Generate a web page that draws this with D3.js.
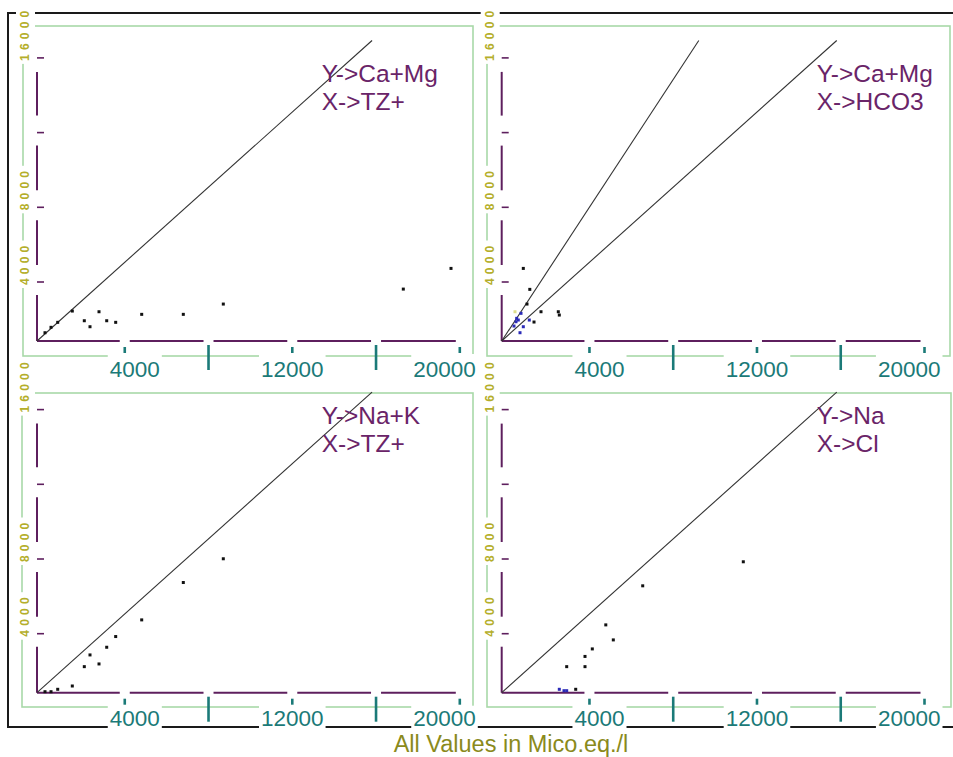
<!DOCTYPE html>
<html><head><meta charset="utf-8">
<script src="https://cdn.jsdelivr.net/npm/d3@7"></script>
<style>body{margin:0;background:#fff} svg{display:block}</style>
</head><body><svg id="c" width="953" height="757"></svg>
<script>
// ---------- DATA (micro-equivalents per litre) ----------
// samples shown in the Ca+Mg vs TZ+ panel and Na+K vs TZ+ panel
const tzPlus = [382, 669, 989, 1686, 2259, 2531, 2961, 3329, 3758, 5000, 6987, 8897, 17493, 19771];
const caMg   = [441, 728, 994, 1595, 1079, 760, 1558, 1079, 994, 1419, 1419, 1967, 2764, 3865];
const naK    = [53, 53, 181, 357, 1387, 2011, 1531, 2420, 2990, 3877, 5867, 7131, null, null];
// Ca+Mg vs HCO3 panel
const hco3      = [1032, 1342, 1208, 1877, 1543, 2703, 2751, 922, 793, 683, 587, 1032, 1318, 874, 716, 635];
const caMgHco3  = [3865, 2749, 1967, 1558, 1010, 1558, 1382, 1473, 1116, 1026, 797, 760, 1116, 441, 1207, 1558];
const hco3Group = ["k","k","k","k","k","k","k","b","b","b","b","b","b","b","b","y"];
// Na vs Cl panel
const cl      = [11538, 6734, 4971, 5330, 4327, 3978, 3978, 3104, 2751, 2975, 3104, 3534];
const na      = [6971, 5691, 3611, 2811, 2331, 1931, 1387, 1387, 181, 107, 107, 181];
const clGroup = ["k","k","k","k","k","k","k","k","b","b","b","k"];
// reference line slopes (y = r * x)
const linesCaMgTZ = [1];
const linesCaMgHCO3 = [1.7, 1];
const linesNaKTZ = [1];
const linesNaCl = [1];
// axes
const xTicks = [4000, 8000, 12000, 16000, 20000];
const xTickLabels = ["4000", "", "12000", "", "20000"];
const yTicks = [4000, 8000, 12000, 16000];
const yTickLabels = ["4000", "8000", "", "16000"];
const panelTitles = [["Y->Ca+Mg","X->TZ+"],["Y->Ca+Mg","X->HCO3"],["Y->Na+K","X->TZ+"],["Y->Na","X->Cl"]];
const footer = "All Values in Mico.eq./l";

// ---------- STYLE / LAYOUT ----------
const FONT = '"Liberation Sans", Arial, sans-serif';
const COL = {purple:'#5e1f5e', teal:'#1b7a78', green:'#a8d9a8', ylab:'#b4ae2a',
             text:'#6a2468', foot:'#8a8a1c', line:'#333333', frame:'#1a1a1a'};
const groupColor = {k:'#111111', b:'#2b2bb8', y:'#dede8a'};
const xLabelAnchor = ['start','middle','middle','middle','end'];
const xLabelShift = [-15, 0, 0, 0, 16];

const panels = [
  {ox:37,    oy:341,   frame:[23,26,473,356],   xs:tzPlus, ys:caMg,     grp:null,      lines:linesCaMgTZ,   tx:321.7, ty:81.7, ldy:36},
  {ox:501.7, oy:341,   frame:[487,26,950,356],  xs:hco3,   ys:caMgHco3, grp:hco3Group, lines:linesCaMgHCO3, tx:816.7, ty:81.7, ldy:36},
  {ox:37,    oy:692.7, frame:[22,393,473,707],  xs:tzPlus, ys:naK,      grp:null,      lines:linesNaKTZ,    tx:321.7, ty:424,  ldy:33},
  {ox:501.7, oy:692.7, frame:[487,393,951,707], xs:cl,     ys:na,       grp:clGroup,   lines:linesNaCl,     tx:816.7, ty:424,  ldy:33}
];

const svg = d3.select('#c');
svg.append('rect').attr('width',953).attr('height',757).attr('fill','#fff');
svg.append('defs').append('clipPath').attr('id','clipTop')
   .append('rect').attr('x',0).attr('y',11).attr('width',953).attr('height',746);

// outer black frame
svg.append('path').attr('d','M953,13 H8 V727 H953').attr('fill','none')
   .attr('stroke',COL.frame).attr('stroke-width',2);

panels.forEach((p, pi) => {
  const g = svg.append('g');
  const x  = d3.scaleLinear().domain([0,20000]).range([p.ox, p.ox + 418.8]);
  const y  = d3.scaleLinear().domain([0,16000]).range([p.oy, p.oy - 300.5]);
  const xt = d3.scaleLinear().domain([0,20000]).range([p.ox + 4, p.ox + 4 + 418.8]);
  const yt = d3.scaleLinear().domain([0,16000]).range([p.oy + 15.7, p.oy + 15.7 - 298.8]);
  const f = p.frame;

  // green frame
  g.append('rect').attr('x',f[0]).attr('y',f[1]).attr('width',f[2]-f[0]).attr('height',f[3]-f[1])
   .attr('fill','none').attr('stroke',COL.green).attr('stroke-width',1.6);

  // y tick labels (rotated, with white boxes)
  const yl = g.append('g').attr('clip-path','url(#clipTop)');
  yTicks.forEach((t,i) => {
    if (!yTickLabels[i]) return;
    const lg = yl.append('g');
    const box = lg.append('rect').attr('fill','#fff');
    const tx = lg.append('text').text(yTickLabels[i])
      .attr('transform',`translate(${p.ox-12},${yt(t)+3}) rotate(-90)`)
      .attr('dy','0.36em').attr('font-family',FONT).attr('font-weight','bold')
      .attr('font-size',12).attr('letter-spacing','4.2px').attr('fill',COL.ylab);
    const len = tx.node().getComputedTextLength();
    box.attr('x',p.ox-21).attr('y',yt(t)+3-len-1).attr('width',19).attr('height',len+4);
  });

  // teal x ticks
  g.selectAll('line.xt').data(xTicks).join('line')
   .attr('x1',d=>xt(d)).attr('x2',d=>xt(d))
   .attr('y1',(d,i)=>p.oy + (xTickLabels[i] ? 6 : 4))
   .attr('y2',(d,i)=>p.oy + (xTickLabels[i] ? 12 : 29))
   .attr('stroke',COL.teal).attr('stroke-width',2.6);

  // x tick labels with white boxes
  xTicks.forEach((t,i) => {
    if (!xTickLabels[i]) return;
    const lg = g.append('g');
    const box = lg.append('rect').attr('fill','#fff');
    const tx = lg.append('text').text(xTickLabels[i])
      .attr('x', xt(t) + xLabelShift[i]).attr('y', p.oy + p.ldy)
      .attr('text-anchor', xLabelAnchor[i])
      .attr('font-family',FONT).attr('font-size',22.5).attr('fill',COL.teal);
    const bb = tx.node().getBBox();
    box.attr('x',bb.x-2).attr('y',p.oy+13).attr('width',bb.width+4).attr('height',p.ldy-10);
  });

  // purple x axis (broken at ticks)
  const xStops = [x(0)].concat(xTicks.slice(0,-1).flatMap(t => [xt(t)-5, xt(t)+5])).concat([x(20000)]);
  d3.range(0, xStops.length, 2).forEach(k => {
    g.append('line').attr('x1',xStops[k]).attr('x2',xStops[k+1]).attr('y1',p.oy).attr('y2',p.oy)
     .attr('stroke',COL.purple).attr('stroke-width',2);
  });
  // purple y axis (broken at ticks)
  const yStops = [y(0)].concat(yTicks.flatMap((t,i) => i < yTicks.length-1 ? [yt(t)+13, yt(t)-17] : [yt(t)+14]));
  d3.range(0, yStops.length-1, 2).forEach(k => {
    g.append('line').attr('x1',p.ox).attr('x2',p.ox).attr('y1',yStops[k]).attr('y2',yStops[k+1])
     .attr('stroke',COL.purple).attr('stroke-width',2);
  });
  g.selectAll('line.yt').data(yTicks).join('line')
   .attr('x1',p.ox).attr('x2',p.ox+7).attr('y1',d=>yt(d)).attr('y2',d=>yt(d))
   .attr('stroke',COL.purple).attr('stroke-width',1.6);

  // reference lines
  g.selectAll('line.ref').data(p.lines).join('line')
   .attr('x1',x(0)).attr('y1',y(0))
   .attr('x2',r=>x(16000/r)).attr('y2',y(16000))
   .attr('stroke',COL.line).attr('stroke-width',1.1);

  // points
  const pts = p.xs.map((v,i) => ({x:v, y:p.ys[i], g:p.grp ? p.grp[i] : 'k'}))
                  .filter(d => d.y != null);
  g.selectAll('rect.pt').data(pts).join('rect')
   .attr('x',d=>x(d.x)-1.5).attr('y',d=>y(d.y)-1.5).attr('width',3).attr('height',3)
   .attr('fill',d=>groupColor[d.g]);

  // panel titles
  panelTitles[pi].forEach((s,j) => {
    g.append('text').text(s).attr('x',p.tx).attr('y',p.ty + j*28)
     .attr('font-family',FONT).attr('font-size',24.5).attr('fill',COL.text);
  });
});

svg.append('text').text(footer).attr('x',511).attr('y',752).attr('text-anchor','middle')
   .attr('font-family',FONT).attr('font-size',23.5).attr('fill',COL.foot);
</script></body></html>
